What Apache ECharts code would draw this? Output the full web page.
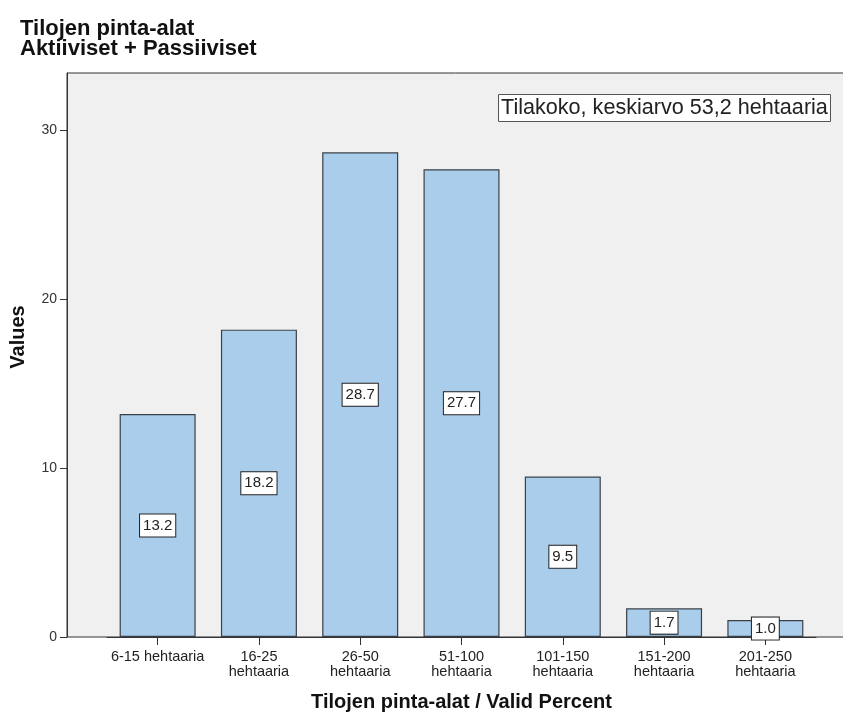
<!DOCTYPE html>
<html>
<head>
<meta charset="utf-8">
<script src="https://cdn.jsdelivr.net/npm/echarts@6/dist/echarts.min.js"></script>
<style>
  html, body { margin: 0; padding: 0; background: #ffffff; }
  #chart { width: 843px; height: 712px; }
</style>
</head>
<body>
<div id="chart"></div>
<script>
// Farm area classes (hectares) and their valid percent
const categories = [
  '6-15 hehtaaria',
  '16-25\nhehtaaria',
  '26-50\nhehtaaria',
  '51-100\nhehtaaria',
  '101-150\nhehtaaria',
  '151-200\nhehtaaria',
  '201-250\nhehtaaria'
];
const validPercent = [13.2, 18.2, 28.7, 27.7, 9.5, 1.7, 1.0];
const yTicks = [0, 10, 20, 30];

const chart = echarts.init(document.getElementById('chart'), null, { renderer: 'canvas' });

const FONT = 'Arial, "Liberation Sans", sans-serif';

chart.setOption({
  backgroundColor: '#ffffff',
  animation: false,
  title: [
    {
      text: 'Tilojen pinta-alat\nAktiiviset + Passiiviset',
      left: 20,
      top: 19,
      padding: 0,
      textStyle: { fontFamily: FONT, fontSize: 22, fontWeight: 'bold', color: '#111', lineHeight: 20 }
    },
    {
      text: 'Tilakoko, keskiarvo 53,2 hehtaaria',
      left: 498,
      top: 94,
      padding: [3, 3, 2, 3],
      backgroundColor: '#ffffff',
      borderColor: '#555',
      borderWidth: 1,
      textStyle: { fontFamily: FONT, fontSize: 21.6, fontWeight: 'normal', color: '#222', lineHeight: 23 }
    }
  ],
  graphic: [
    {
      // plot background panel with frame
      type: 'rect',
      z: -10,
      silent: true,
      shape: { x: 67, y: 73, width: 820, height: 564 },
      style: { fill: '#f0f0f0', stroke: '#333', lineWidth: 1 }
    },
    {
      type: 'text',
      silent: true,
      x: 18,
      y: 337,
      rotation: Math.PI / 2,
      style: {
        text: 'Values',
        font: 'bold 20px ' + FONT,
        fill: '#111',
        align: 'center',
        verticalAlign: 'middle'
      }
    }
  ],
  grid: { left: 107, right: 27, top: 73, bottom: 75, containLabel: false, outerBoundsMode: 'none' },
  xAxis: {
    type: 'category',
    data: categories,
    name: 'Tilojen pinta-alat / Valid Percent',
    nameLocation: 'middle',
    nameGap: 55,
    nameTextStyle: { fontFamily: FONT, fontSize: 20, fontWeight: 'bold', color: '#111' },
    axisLine: { show: true, lineStyle: { color: '#333', width: 1 } },
    axisTick: { show: true, alignWithLabel: true, length: 8, lineStyle: { color: '#333' } },
    axisLabel: { fontFamily: FONT, fontSize: 14.5, color: '#222', margin: 12, lineHeight: 15, interval: 0 },
    splitLine: { show: false }
  },
  yAxis: {
    type: 'value',
    min: 0,
    max: 33.4,
    interval: 10,
    offset: 40,
    axisLine: { show: true, lineStyle: { color: '#333', width: 1 } },
    axisTick: { show: true, length: 7, lineStyle: { color: '#333' } },
    axisLabel: {
      fontFamily: FONT, fontSize: 14, color: '#333', margin: 10,
      showMaxLabel: false,
      formatter: function (v) { return yTicks.indexOf(v) >= 0 ? String(v) : ''; }
    },
    splitLine: { show: false }
  },
  series: [{
    type: 'bar',
    data: validPercent,
    barWidth: 76,
    itemStyle: { color: '#abcdec', borderColor: '#3a4048', borderWidth: 1.2 },
    label: {
      show: true,
      position: 'inside',
      formatter: function (p) { return p.value.toFixed(1); },
      fontFamily: FONT,
      fontSize: 15,
      color: '#222',
      backgroundColor: '#ffffff',
      borderColor: '#222',
      borderWidth: 1,
      padding: [4, 3, 3, 3]
    }
  }]
});
</script>
</body>
</html>
